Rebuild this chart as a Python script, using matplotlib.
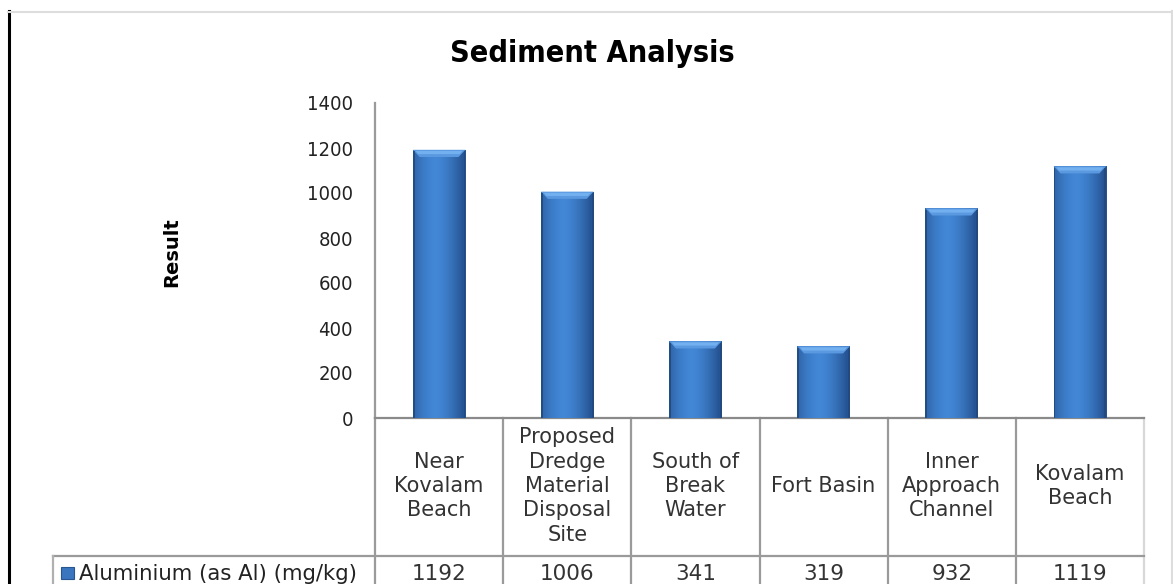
import numpy as np
import matplotlib
matplotlib.use("Agg")
import matplotlib.pyplot as plt
from matplotlib.transforms import blended_transform_factory
from matplotlib.patches import Rectangle
from matplotlib.lines import Line2D

# ---- data ----
categories = ["Near\nKovalam\nBeach",
              "Proposed\nDredge\nMaterial\nDisposal\nSite",
              "South of\nBreak\nWater",
              "Fort Basin",
              "Inner\nApproach\nChannel",
              "Kovalam\nBeach"]
values = [1192, 1006, 341, 319, 932, 1119]
series_name = "Aluminium (as Al) (mg/kg)"
value_labels = ["1192", "1006", "341", "319", "932", "1119"]
yticks = [0, 200, 400, 600, 800, 1000, 1200, 1400]
ytick_labels = [str(t) for t in yticks]

W, H = 1173, 584
fig = plt.figure(figsize=(W / 100, H / 100), dpi=100)
fig.patch.set_facecolor("white")

def fx(px):
    return px / W

def fy(py):
    return 1 - py / H

# axes geometry (pixels)
ax_l, ax_r, ax_t, ax_b = 375, 1144, 103, 418
ax = fig.add_axes([fx(ax_l), fy(ax_b), fx(ax_r - ax_l), (ax_b - ax_t) / H])
n = len(categories)
x = np.arange(n)
ax.set_xlim(-0.5, n - 0.5)
ax.set_ylim(0, 1400)
ax.set_yticks(yticks)
ax.set_yticklabels(ytick_labels, fontsize=14.5, color="#222222",
                   fontstretch="condensed")
ax.tick_params(axis="y", length=0, pad=16)
ax.set_xticks([])
for s in ["top", "right"]:
    ax.spines[s].set_visible(False)
ax.spines["left"].set_color("#9a9a9a")
ax.spines["left"].set_linewidth(1.6)
ax.spines["bottom"].set_color("#8a8a8a")
ax.spines["bottom"].set_linewidth(1.6)
ax.set_facecolor("none")

# bars with gradient
bar_w = 0.41
bars = ax.bar(x, values, width=bar_w, color="#3a76c0", edgecolor="none", zorder=2)
grad = np.linspace(0, 1, 64)
profile = 1 - np.clip(np.abs(grad - 0.42) * 1.9, 0, 1) ** 1.6
c_dark = np.array([0.15, 0.33, 0.58])
c_light = np.array([0.26, 0.53, 0.84])
img = c_dark[None, :] + (c_light - c_dark)[None, :] * profile[:, None]
img = img[None, :, :]
for b in bars:
    x0, w_, h_ = b.get_x(), b.get_width(), b.get_height()
    im = ax.imshow(img, extent=[x0, x0 + w_, 0, h_], aspect="auto",
                   interpolation="bilinear", zorder=3)
    im.set_clip_path(b)
    # top bevel
    bev = 32.0  # data units in y
    dx = w_ * 0.13
    poly = plt.Polygon([[x0, h_], [x0 + w_, h_], [x0 + w_ - dx, h_ - bev],
                        [x0 + dx, h_ - bev]], closed=True,
                       facecolor="#5a98df", edgecolor="none", zorder=4)
    ax.add_patch(poly)
    poly2 = plt.Polygon([[x0 + dx * 0.4, h_ - bev * 0.15], [x0 + w_ - dx * 0.4, h_ - bev * 0.15],
                         [x0 + w_ - dx * 0.8, h_ - bev * 0.6], [x0 + dx * 0.8, h_ - bev * 0.6]],
                        closed=True, facecolor="#72b0f0", edgecolor="none", zorder=4)
    ax.add_patch(poly2)
    # dark vertical edges
    ax.add_patch(Rectangle((x0, 0), w_ * 0.035, h_ - bev * 0.2, facecolor="#22497c",
                           edgecolor="none", zorder=4, alpha=0.85))
    ax.add_patch(Rectangle((x0 + w_ * 0.965, 0), w_ * 0.035, h_ - bev * 0.2,
                           facecolor="#22497c", edgecolor="none", zorder=4, alpha=0.85))
ax.set_xlim(-0.5, n - 0.5)
ax.set_ylim(0, 1400)

# ---- data table ----
trans = blended_transform_factory(ax.transData, ax.transAxes)
span = ax_b - ax_t
def afy(py):
    return (ax_b - py) / span

grid_c = "#9a9a9a"
tbl_bot = afy(600)
for i in range(n + 1):
    xv = i - 0.5
    col = grid_c if i < n else "#d8d8d8"
    ax.add_line(Line2D([xv, xv], [0, tbl_bot], transform=trans, color=col,
                       lw=1.6, clip_on=False))
fig.add_artist(Line2D([fx(53), fx(ax_r)], [fy(556), fy(556)], color=grid_c, lw=1.6))
fig.add_artist(Line2D([fx(53), fx(53)], [fy(556), fy(600)], color="#b0b0b0", lw=1.6))

for i, (cat, v) in enumerate(zip(categories, value_labels)):
    ax.text(i, afy(486), cat, transform=trans, ha="center", va="center",
            fontsize=15, color="#333333", linespacing=1.28, clip_on=False)
    ax.text(i, afy(574), v, transform=trans, ha="center", va="center",
            fontsize=15.5, color="#333333", clip_on=False)

# legend key & row label
fig.add_artist(Rectangle((fx(61), fy(579)), fx(13), 12 / H,
                         facecolor="#3a76c0", edgecolor="#27558f", lw=0.8))
fig.text(fx(79), fy(574), series_name, ha="left", va="center",
         fontsize=15.3, color="#222222")

# title and axis label
fig.text(fx(592), fy(54), "Sediment Analysis", ha="center", va="center",
         fontsize=22, fontweight="bold", fontstretch="condensed", color="black")
fig.text(fx(172), fy(252), "Result", ha="center", va="center", rotation=90,
         fontsize=14, fontweight="bold", color="black")

# frame
fig.add_artist(Line2D([fx(8.5), fx(8.5)], [fy(11), 0], color="black", lw=2.2))
fig.add_artist(Line2D([fx(8), fx(1172)], [fy(11.5), fy(11.5)], color="#dddddd", lw=1.5))
fig.add_artist(Line2D([fx(1171.5), fx(1171.5)], [fy(11), 0], color="#dddddd", lw=1.5))

fig.savefig("out.png", dpi=100, facecolor="white")
